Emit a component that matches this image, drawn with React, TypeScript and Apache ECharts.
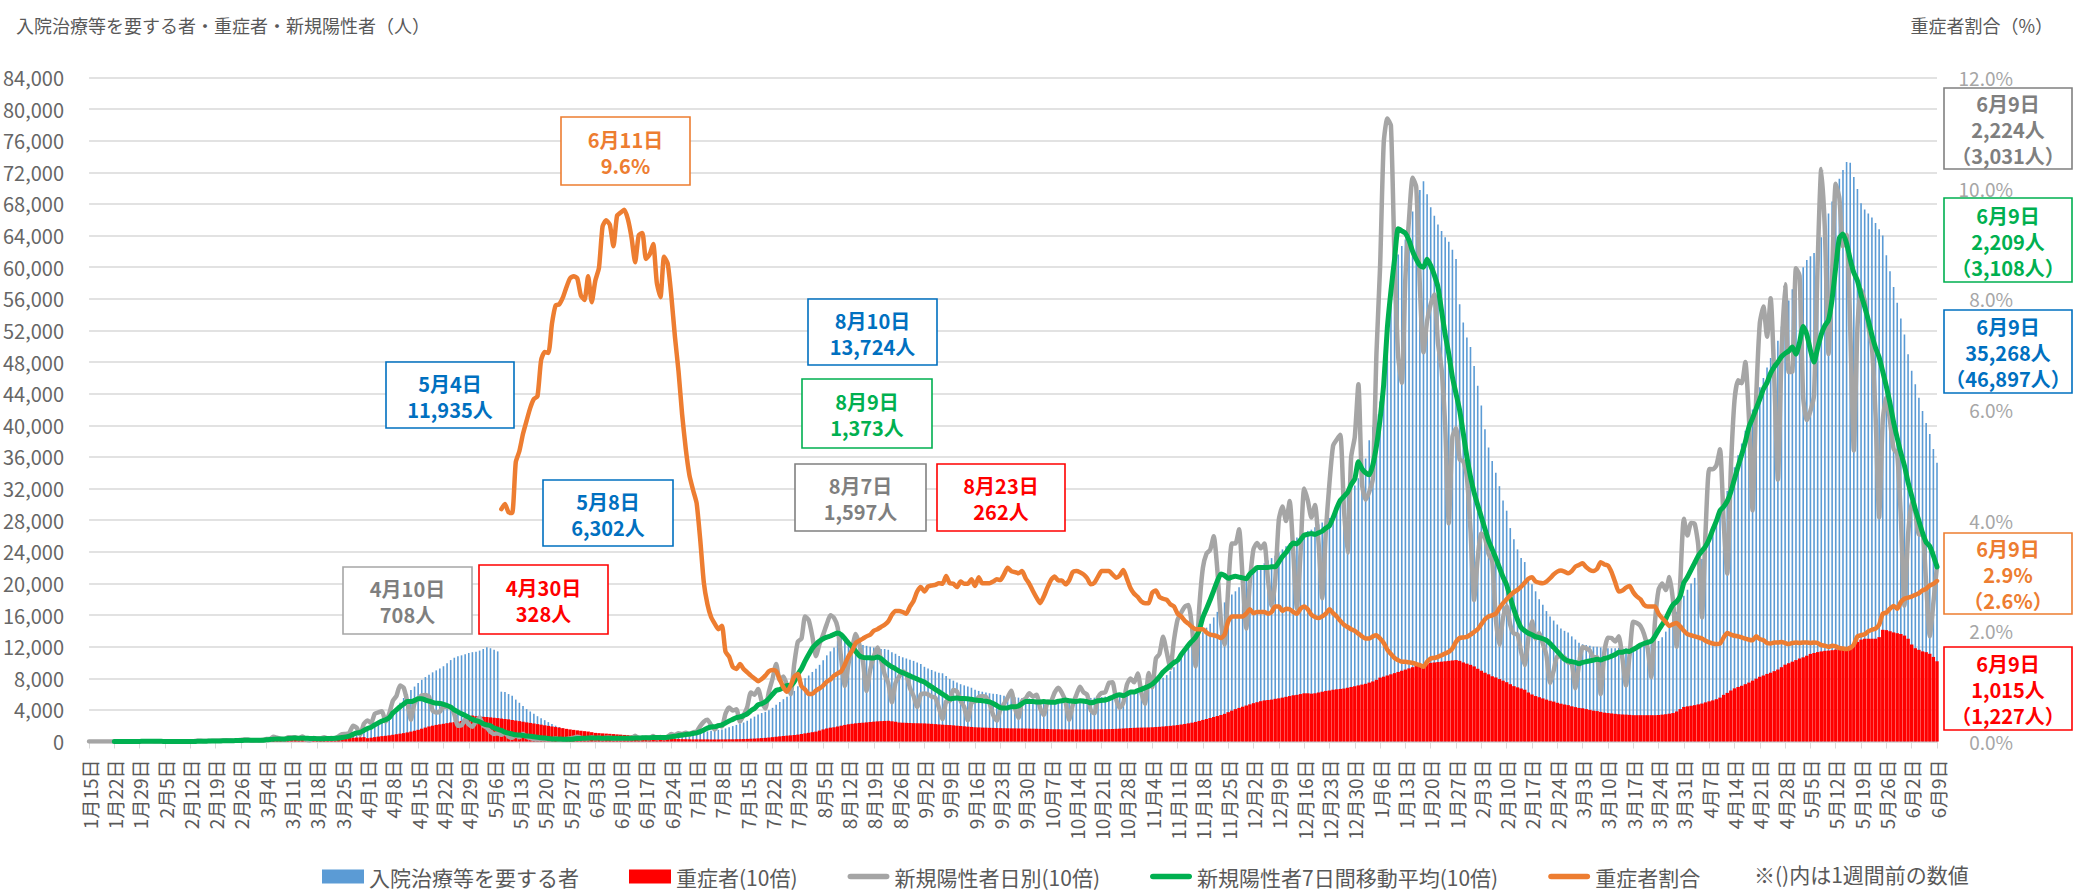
import React, { useEffect, useRef } from "react";
import * as echarts from "echarts";

const FONT = '"Noto Sans CJK JP", "Noto Sans", sans-serif';

// ---- categories: one per day, 2020-01-15 .. 2021-06-09 ----
const firstDay = Date.UTC(2020, 0, 15);
const dayCount = 512;

// ---- series values (persons / %) ----
// 新規陽性者 日別 (persons/day), from 2020-01-15
const newCases = [
  // 2020 Jan (15-31)
  1, 0, 0, 0, 0, 0, 0, 0, 0, 1, 1, 1, 0, 3, 1, 4, 3,
  // Feb
  3, 0, 0, 2, 0, 2, 0, 0, 1, 0, 1, 1, 3, 8, 8, 6, 6, 8, 8, 10, 13, 15, 12, 9, 16, 20, 24, 24, 12,
  // Mar
  15, 14, 19, 33, 33, 59, 47, 33, 26, 54, 52, 54, 41, 64, 25, 16, 44, 39, 39, 53, 40, 43, 38, 65, 93, 96, 112, 200, 174, 87, 225,
  // Apr
  266, 235, 351, 368, 383, 252, 352, 515, 576, 708, 680, 503, 275, 487, 542, 584, 587, 568, 390, 367, 378, 436, 438, 437, 346, 200, 204, 278, 216, 187,
  // May
  260, 304, 203, 175, 123, 96, 104, 84, 111, 60, 48, 78, 55, 99, 58, 42, 32, 27, 33, 28, 30, 25, 39, 21, 21, 31, 38, 48, 59, 46, 38,
  // Jun
  37, 51, 40, 46, 38, 46, 47, 36, 41, 37, 41, 41, 43, 72, 42, 45, 48, 42, 68, 40, 57, 41, 61, 94, 81, 105, 94, 111, 85, 117,
  // Jul
  125, 195, 250, 274, 208, 152, 207, 191, 353, 429, 392, 408, 252, 332, 437, 621, 592, 664, 510, 419, 631, 794, 981, 774, 823, 710, 600, 981, 1264, 1301, 1580,
  // Aug
  1536, 1331, 1080, 1237, 1354, 1485, 1597, 1565, 1445, 1040, 702, 985, 1176, 1359, 1227, 1011, 640, 906, 1076, 1190, 1032, 849, 740, 497, 740, 822, 887, 854, 676, 575, 437,
  // Sep
  594, 606, 597, 568, 555, 428, 285, 507, 514, 653, 633, 516, 435, 269, 493, 508, 561, 574, 565, 485, 336, 265, 403, 476, 556, 643, 431, 298, 514, 545,
  // Oct
  611, 567, 592, 420, 337, 498, 505, 618, 680, 617, 506, 275, 460, 586, 693, 622, 591, 395, 356, 561, 614, 623, 740, 748, 533, 426, 490, 720, 798, 748, 860,
  // Nov
  617, 474, 867, 685, 1048, 1108, 1326, 1130, 931, 1281, 1541, 1631, 1705, 1727, 1441, 950, 1697, 2197, 2376, 2425, 2596, 2168, 1518, 1226, 1937, 2505, 2504, 2684, 2055, 1429,
  // Dec
  2030, 2433, 2511, 2444, 2504, 2048, 1720, 2041, 2807, 2974, 2788, 3041, 2386, 1680, 2390, 3202, 3052, 2833, 2992, 2506, 1812, 2661, 3270, 3741, 3819, 3881, 2948, 2390, 3598, 3852, 4520,
  // 2021 Jan
  3257, 3059, 3158, 3325, 4915, 6004, 7570, 7882, 7790, 6094, 4876, 4538, 5870, 6605, 7133, 7014, 5759, 4925, 5320, 5532, 5654, 5045, 4715, 3989, 2760, 3852, 3964, 3568, 3547, 3342, 2675,
  // Feb
  1789, 2324, 2631, 2576, 2373, 2286, 1554, 1222, 1570, 1711, 1476, 1363, 1356, 1133, 966, 1308, 1524, 1301, 1373, 1239, 1089, 740, 897, 1076, 1076, 1063, 1001, 990,
  // Mar
  673, 976, 1195, 1178, 1149, 1065, 1065, 600, 1127, 1313, 1308, 1265, 1331, 1054, 709, 1097, 1515, 1499, 1462, 1356, 1179, 816, 1510, 1918, 1998, 1915, 2082, 1784, 1200, 2011, 2819,
  // Apr
  2605, 2765, 2754, 2470, 1569, 2654, 3447, 3445, 3493, 3697, 2779, 2123, 3451, 4312, 4570, 4532, 4802, 4091, 2924, 4343, 5291, 5503, 5119, 5606, 4603, 3314, 4884, 5783, 4673, 4678,
  // May
  5986, 5895, 4354, 4068, 4181, 4383, 6054, 7244, 6470, 4902, 5917, 7056, 6874, 6266, 6411, 5238, 3681, 5229, 5719, 5576, 5258, 4993, 4138, 2837, 4062, 4353, 4058, 3702, 3641, 2841, 1719,
  // Jun (1-9)
  2611, 3031, 2907, 2618, 2624, 2000, 1331, 1754, 2224,
];

// 新規陽性者 7日間移動平均 (persons/day), from 2020-01-22
const avg7Start = 7;
const avg7 = [
  0.4, 0.4, 0.6, 0.7, 0.9, 0.9, 1.3, 1.4, 1.9, 2.1,
  2.3, 2.1, 2.0, 1.9, 1.3, 1.3, 1.0, 0.7, 0.9, 0.6, 0.6, 0.6, 1.0, 2.1, 3.3, 4.1, 4.9, 5.9, 6.9, 7.1, 8.7, 9.7, 10.1, 10.6, 11.7, 13.1, 15.1, 15.4, 15.6,
  15, 15, 17, 21, 25, 29, 33, 33, 33, 37, 40, 43, 40, 42, 41, 39, 38, 36, 35, 36, 37, 39, 40, 43, 50, 58, 68, 90, 108, 115, 140,
  165, 180, 210, 235, 260, 275, 300, 360, 400, 440, 475, 505, 505, 520, 540, 540, 525, 510, 495, 485, 480, 470, 455, 435, 400, 375, 350, 330, 305, 280,
  265, 250, 225, 210, 200, 170, 155, 140, 118, 105, 95, 85, 82, 75, 70, 66, 59, 54, 47, 43, 37, 33, 33, 31, 30, 29, 30, 33, 38, 39, 41,
  43, 43, 43, 43, 41, 41, 42, 42, 41, 40, 40, 40, 40, 44, 45, 46, 47, 47, 51, 50, 52, 51, 54, 61, 66, 75, 83, 88, 94, 102,
  109, 125, 146, 169, 183, 188, 201, 211, 234, 260, 280, 302, 311, 328, 349, 389, 418, 463, 478, 502, 545, 596, 647, 658, 681, 710, 706, 756, 852, 921, 1016,
  1100, 1180, 1230, 1270, 1300, 1320, 1335, 1355, 1373, 1350, 1300, 1245, 1200, 1140, 1085, 1065, 1060, 1058, 1055, 1070, 1050, 1010, 975, 945, 920, 890, 870, 850, 830, 810, 790,
  770, 753, 720, 690, 660, 630, 600, 570, 540, 545, 550, 545, 545, 540, 535, 524, 520, 515, 510, 500, 480, 455, 430, 425, 425, 440, 440, 450, 480, 505,
  505, 505, 500, 500, 505, 500, 495, 495, 510, 515, 525, 515, 510, 505, 515, 510, 505, 490, 500, 515, 520, 525, 540, 560, 580, 590, 580, 600, 625, 625, 645,
  660, 680, 700, 726, 770, 820, 880, 920, 960, 1000, 1026, 1100, 1160, 1220, 1270, 1320, 1410, 1572, 1680, 1790, 1910, 2030, 2120, 2100, 2064, 2080, 2090, 2080, 2070, 2060,
  2120, 2160, 2200, 2200, 2200, 2200, 2210, 2210, 2270, 2340, 2390, 2460, 2510, 2500, 2550, 2610, 2620, 2630, 2620, 2640, 2660, 2700, 2730, 2830, 2950, 3050, 3100, 3150, 3250, 3320, 3540,
  3450, 3400, 3374, 3500, 3740, 4080, 4520, 5230, 5700, 6100, 6486, 6460, 6430, 6340, 6200, 6100, 6020, 6000, 6100, 6020, 5900, 5750, 5450, 5150, 4900, 4610, 4400, 4190, 3900, 3600, 3350,
  3150, 2990, 2840, 2690, 2540, 2430, 2320, 2200, 2080, 1980, 1820, 1670, 1540, 1440, 1400, 1370, 1350, 1326, 1315, 1300, 1280, 1240, 1190, 1140, 1090, 1040, 1020, 1010,
  1000, 985, 1000, 1010, 1020, 1030, 1040, 1030, 1050, 1060, 1080, 1100, 1130, 1130, 1145, 1140, 1165, 1190, 1220, 1240, 1255, 1270, 1330, 1409, 1480, 1550, 1650, 1730, 1770, 1840, 2009,
  2080, 2170, 2260, 2350, 2410, 2470, 2560, 2680, 2790, 2920, 2970, 3040, 3160, 3320, 3480, 3630, 3790, 3980, 4090, 4210, 4330, 4460, 4540, 4660, 4740, 4800, 4870, 4910, 4940, 4990,
  4900, 5050, 5250, 5150, 4950, 4800, 4980, 5150, 5260, 5330, 5600, 6000, 6370, 6420, 6300, 6100, 5930, 5830, 5650, 5500, 5330, 5140, 4980, 4860, 4680, 4490, 4280, 4040, 3840, 3650, 3490,
  3280, 3108, 2940, 2790, 2640, 2520, 2470, 2350, 2209,
];

// 入院治療等を要する者 (persons), from 2020-03-01
const hospStart = 46;
const hosp = [
  170, 180, 190, 210, 230, 260, 280, 300, 310, 330, 360, 380, 400, 420, 440, 450, 470, 490, 510, 540, 570, 600, 620, 660, 700, 780, 850, 950, 1050, 1120, 1300,
  1560, 1750, 2000, 2330, 2600, 2900, 3300, 3800, 4300, 4900, 5500, 6000, 6500, 6950, 7400, 7800, 8150, 8460, 8750, 9000, 9250, 9520, 9900, 10300, 10600, 10800, 10900, 11050, 11200, 11300,
  11350, 11500, 11700, 11935, 11800, 11600, 11400, 6302, 6250, 6000, 5800, 5300, 4900, 4500, 4100, 3800, 3500, 3200, 2950, 2700, 2450, 2200, 2000, 1850, 1700, 1550, 1400, 1300, 1200, 1100, 1030,
  980, 950, 920, 900, 880, 860, 840, 820, 800, 780, 770, 760, 750, 740, 730, 720, 720, 710, 710, 720, 730, 740, 760, 780, 800, 830, 870, 900, 940, 980,
  1030, 1100, 1200, 1280, 1350, 1420, 1470, 1530, 1650, 1800, 1950, 2100, 2250, 2400, 2620, 2900, 3150, 3400, 3600, 3750, 3950, 4260, 4650, 5000, 5350, 5650, 5900, 6400, 6990, 7500, 8000,
  8350, 8800, 9200, 9700, 10265, 10900, 11400, 11900, 12800, 13724, 13000, 12600, 12400, 12400, 12300, 12200, 12100, 12000, 11900, 11800, 11700, 11700, 11600, 11300, 11100, 10810, 10650, 10500, 10350, 10200, 10000,
  9800, 9450, 9250, 9050, 8850, 8700, 8630, 8300, 7920, 7700, 7450, 7250, 7100, 6950, 6800, 6550, 6400, 6300, 6200, 6100, 6050, 6000, 5900, 5800, 5700, 5650, 5600, 5550, 5500, 5460,
  5430, 5400, 5380, 5350, 5300, 5270, 5240, 5240, 5250, 5270, 5280, 5300, 5320, 5350, 5380, 5420, 5460, 5500, 5540, 5580, 5620, 5680, 5740, 5800, 5860, 5930, 6000, 6170, 6320, 6480, 6620,
  6720, 6850, 7000, 7260, 7550, 7850, 8080, 8400, 8900, 9400, 9990, 10600, 11360, 11900, 12450, 12900, 13300, 13810, 14400, 14900, 15700, 16400, 17090, 17600, 18180, 18600, 19000, 19500, 20090, 20600,
  21180, 21460, 21800, 22150, 22550, 22900, 23200, 23500, 23910, 24300, 24700, 25100, 25550, 25800, 26100, 26370, 26640, 26800, 27100, 27460, 27700, 28000, 28280, 28800, 29370, 30000, 30500, 31010, 31700, 32380, 33300,
  34290, 35800, 38110, 39800, 41390, 43020, 47390, 52850, 57220, 60500, 61600, 62680, 63500, 65410, 67050, 68500, 69780, 70870, 69240, 67600, 66500, 65410, 64590, 63800, 63230, 62200, 61040, 55300, 53000, 51100, 49900,
  47500, 45000, 42500, 39500, 37200, 35500, 34000, 32300, 30500, 29200, 27000, 25600, 24300, 23200, 22700, 20800, 19900, 19000, 18000, 17300, 16500, 15800, 15300, 14800, 14300, 14000, 13800, 13300,
  12900, 12500, 12300, 12200, 12100, 12000, 12000, 11900, 11850, 11800, 11800, 11800, 11850, 11850, 11800, 11850, 11900, 11950, 12000, 12100, 12200, 12300, 12500, 12720, 13200, 13900, 14800, 15600, 16400, 17300, 18450,
  19200, 20000, 20700, 21900, 23100, 24300, 25600, 26800, 28000, 29100, 30300, 31700, 33100, 34700, 36200, 37700, 39300, 40700, 42000, 43300, 44800, 46000, 47300, 48500, 49600, 50700, 52500, 54300, 55800, 57200,
  58300, 59300, 60000, 60900, 61400, 61800, 62400, 63800, 65400, 66800, 68300, 69800, 71200, 72300, 73300, 73200, 71400, 69900, 68100, 67300, 66800, 66300, 65600, 64800, 64000, 61500, 59500, 57500, 55500, 53500, 51500,
  49000, 46897, 45200, 43500, 41800, 40300, 38900, 37000, 35268,
];

// 重症者 (persons), from 2020-03-01
const severeStart = 46;
const severe = [
  20, 20, 21, 22, 23, 25, 27, 28, 29, 30, 31, 32, 33, 33, 34, 35, 36, 37, 38, 39, 40, 41, 42, 43, 44, 45, 47, 48, 50, 52, 55,
  42, 48, 55, 62, 68, 72, 78, 85, 92, 99, 106, 115, 125, 136, 148, 162, 176, 190, 200, 210, 217, 224, 232, 240, 245, 252, 260, 268, 275, 328,
  320, 315, 312, 310, 305, 300, 296, 290, 285, 280, 272, 265, 258, 250, 242, 235, 228, 220, 213, 205, 198, 190, 183, 176, 168, 160, 153, 147, 141, 136, 131,
  126, 118, 109, 106, 103, 100, 97, 94, 90, 87, 83, 79, 75, 71, 67, 61, 55, 52, 49, 46, 43, 40, 37, 33, 32, 31, 30, 29, 28, 27,
  27, 27, 27, 27, 26, 26, 26, 27, 27, 28, 28, 29, 30, 31, 33, 35, 37, 40, 43, 46, 50, 55, 60, 65, 70, 74, 78, 82, 87, 95, 103,
  110, 118, 125, 138, 153, 165, 175, 180, 190, 200, 210, 218, 224, 230, 235, 238, 242, 247, 251, 255, 258, 260, 262, 256, 250, 240, 238, 236, 234, 232, 231,
  230, 229, 226, 223, 220, 216, 213, 210, 208, 204, 200, 196, 192, 188, 184, 180, 178, 176, 175, 173, 172, 170, 169, 168, 167, 166, 166, 165, 165, 164,
  163, 162, 161, 160, 159, 158, 156, 155, 155, 154, 154, 153, 153, 153, 153, 153, 153, 154, 154, 155, 155, 156, 157, 158, 160, 162, 165, 168, 171, 173, 175,
  176, 177, 178, 180, 183, 186, 190, 194, 198, 203, 208, 215, 222, 230, 238, 248, 260, 273, 285, 297, 310, 322, 335, 350, 371, 390, 410, 425, 440, 455,
  470, 485, 497, 510, 520, 525, 530, 540, 546, 555, 565, 575, 585, 590, 600, 610, 610, 605, 610, 620, 630, 640, 645, 655, 660, 665, 670, 680, 690, 699, 710,
  720, 730, 745, 760, 780, 808, 820, 835, 850, 865, 880, 895, 910, 925, 940, 955, 965, 975, 985, 995, 1000, 1005, 1010, 1015, 1020, 1025, 1030, 1020, 1000, 985, 970,
  950, 920, 895, 870, 850, 825, 810, 790, 770, 750, 725, 700, 685, 670, 655, 620, 595, 575, 560, 545, 530, 515, 505, 490, 478, 468, 460, 445,
  435, 425, 420, 410, 400, 390, 385, 375, 365, 360, 355, 350, 345, 342, 340, 337, 333, 333, 333, 333, 333, 333, 333, 335, 340, 345, 352, 360, 380, 410, 437,
  445, 452, 460, 470, 480, 495, 508, 520, 535, 555, 590, 615, 645, 672, 690, 705, 725, 745, 770, 795, 819, 835, 855, 870, 890, 910, 940, 972, 990, 1010,
  1030, 1050, 1065, 1085, 1108, 1120, 1131, 1140, 1147, 1150, 1155, 1163, 1170, 1180, 1195, 1210, 1230, 1260, 1289, 1300, 1300, 1300, 1300, 1320, 1413, 1409, 1395, 1380, 1370, 1360, 1340,
  1300, 1227, 1180, 1160, 1140, 1130, 1110, 1070, 1015,
];

// 重症者割合 (%), from 2020-05-08
const ratioStart = 114;
const severeRatio = [
  4.2, 4.29, 4.14, 4.13, 5.05, 5.25, 5.56, 5.8, 6.03, 6.19, 6.24, 6.89, 7.04, 7.02, 7.55, 7.88, 7.9, 8.02, 8.21, 8.37, 8.41, 8.37, 8.06, 7.98,
  8.41, 7.94, 8.33, 8.56, 9.31, 9.42, 9.34, 8.95, 9.5, 9.56, 9.61, 9.44, 9.11, 8.66, 9.15, 9.19, 8.72, 8.8, 8.99, 8.29, 8.03, 8.76, 8.64, 8.06, 7.32, 6.69, 5.91, 5.29, 4.82, 4.55,
  4.31, 3.65, 2.87, 2.48, 2.25, 2.13, 2.03, 2.09, 1.62, 1.53, 1.35, 1.31, 1.4, 1.31, 1.25, 1.19, 1.14, 1.09, 1.13, 1.19, 1.27, 1.29, 1.27, 1.12, 0.98, 0.9, 1.01, 1.17, 1.22, 1.0, 0.94,
  0.86, 0.86, 0.92, 0.96, 1.01, 1.08, 1.12, 1.19, 1.23, 1.27, 1.39, 1.54, 1.64, 1.78, 1.82, 1.86, 1.9, 1.93, 2.0, 2.03, 2.07, 2.11, 2.17, 2.29, 2.36, 2.36, 2.34, 2.31, 2.44, 2.54, 2.71,
  2.79, 2.71, 2.8, 2.82, 2.83, 2.86, 2.85, 2.99, 2.86, 2.85, 2.79, 2.89, 2.85, 2.85, 2.93, 2.81, 2.97, 2.86, 2.86, 2.86, 2.89, 2.93, 2.92, 3.02, 3.14, 3.08, 3.06, 3.04, 3.08, 2.95,
  2.85, 2.72, 2.6, 2.5, 2.62, 2.78, 2.92, 2.98, 2.91, 2.91, 2.84, 2.91, 3.06, 3.08, 3.06, 3.02, 2.95, 2.84, 2.87, 2.98, 3.08, 3.08, 3.08, 3.02, 2.96, 3.0, 3.1, 2.94, 2.77, 2.67, 2.61,
  2.53, 2.5, 2.5, 2.69, 2.73, 2.61, 2.58, 2.56, 2.48, 2.44, 2.31, 2.26, 2.18, 2.13, 2.07, 2.03, 2.03, 2.03, 1.97, 1.93, 1.92, 1.9, 1.87, 1.93, 2.17, 2.26, 2.26, 2.26, 2.26, 2.31,
  2.39, 2.32, 2.34, 2.34, 2.34, 2.31, 2.34, 2.44, 2.44, 2.36, 2.4, 2.39, 2.34, 2.31, 2.4, 2.44, 2.39, 2.29, 2.25, 2.23, 2.26, 2.31, 2.39, 2.32, 2.26, 2.18, 2.11, 2.07, 2.03, 2.0, 1.95,
  1.9, 1.86, 1.86, 1.9, 1.92, 1.86, 1.78, 1.66, 1.58, 1.51, 1.47, 1.44, 1.44, 1.43, 1.42, 1.4, 1.38, 1.35, 1.44, 1.5, 1.51, 1.53, 1.56, 1.59, 1.62, 1.68, 1.8, 1.87, 1.88, 1.89, 1.93,
  1.98, 2.03, 2.12, 2.21, 2.26, 2.28, 2.31, 2.41, 2.5, 2.57, 2.64, 2.7, 2.74, 2.8, 2.87, 2.94, 2.97, 2.89, 2.87, 2.86, 2.89, 2.95, 3.02, 3.07, 3.09, 3.07, 3.04, 3.08,
  3.16, 3.19, 3.22, 3.15, 3.1, 3.08, 3.12, 3.24, 3.2, 3.18, 3.06, 2.88, 2.71, 2.73, 2.78, 2.81, 2.7, 2.62, 2.57, 2.47, 2.44, 2.44, 2.44, 2.31, 2.23, 2.16, 2.09, 2.12, 2.14, 2.08, 2.0,
  1.94, 1.92, 1.9, 1.88, 1.86, 1.82, 1.79, 1.77, 1.76, 1.77, 1.88, 1.96, 1.93, 1.91, 1.9, 1.88, 1.86, 1.84, 1.83, 1.9, 1.85, 1.83, 1.78, 1.77, 1.79, 1.79, 1.8, 1.78, 1.76, 1.78,
  1.79, 1.78, 1.79, 1.79, 1.78, 1.79, 1.78, 1.74, 1.73, 1.71, 1.73, 1.72, 1.69, 1.68, 1.67, 1.69, 1.75, 1.9, 1.92, 1.94, 1.99, 2.02, 2.04, 2.11, 2.31, 2.33, 2.4, 2.45, 2.4, 2.52, 2.58,
  2.6, 2.62, 2.65, 2.68, 2.73, 2.76, 2.82, 2.85, 2.9,
];

// ---- texts ----
const leftTitle = "入院治療等を要する者・重症者・新規陽性者（人）";
const rightTitle = "重症者割合（%）";
const seriesNames = [
  "入院治療等を要する者",
  "重症者(10倍)",
  "新規陽性者日別(10倍)",
  "新規陽性者7日間移動平均(10倍)",
  "重症者割合",
];
const footNote = "※()内は1週間前の数値";
const calloutTexts = {
  ratioPeak: ["6月11日", "9.6%"],
  hospPeak1: ["5月4日", "11,935人"],
  hospMay8: ["5月8日", "6,302人"],
  severePeak1: ["4月30日", "328人"],
  newPeak1: ["4月10日", "708人"],
  hospPeak2: ["8月10日", "13,724人"],
  avgPeak2: ["8月9日", "1,373人"],
  newPeak2: ["8月7日", "1,597人"],
  severePeak2: ["8月23日", "262人"],
  newLatest: ["6月9日", "2,224人", "（3,031人）"],
  avgLatest: ["6月9日", "2,209人", "（3,108人）"],
  hospLatest: ["6月9日", "35,268人", "（46,897人）"],
  ratioLatest: ["6月9日", "2.9%", "（2.6%）"],
  severeLatest: ["6月9日", "1,015人", "（1,227人）"],
};

function makeDates(): string[] {
  const out: string[] = [];
  for (let i = 0; i < dayCount; i++) {
    const d = new Date(firstDay + i * 86400000);
    out.push(`${d.getUTCMonth() + 1}月${d.getUTCDate()}日`);
  }
  return out;
}

function place(start: number, arr: number[], k = 1): (number | null)[] {
  const out: (number | null)[] = new Array(dayCount).fill(null);
  arr.forEach((v, i) => {
    out[start + i] = Math.round(v * k * 100) / 100;
  });
  return out;
}

const C = {
  blue: "#5B9BD5",
  red: "#FF0000",
  gray: "#A5A5A5",
  green: "#00B050",
  orange: "#ED7D31",
  boxBlue: "#0070C0",
  text: "#595959",
};

// thick rounded line used as legend icon for line series (bbox kept 42x14)
const LINE_ICON =
  "path://M0,0L1,0L0,0Z M0,14L1,14L0,14Z M3,4.3L39,4.3C41,4.3 42,5.5 42,7C42,8.5 41,9.7 39,9.7L3,9.7C1,9.7 0,8.5 0,7C0,5.5 1,4.3 3,4.3Z";

function buildOption() {
  const dates = makeDates();

  const boxes: { key: keyof typeof calloutTexts; x: number; y: number; w: number; h: number; stroke: string; fill: string }[] = [
    { key: "ratioPeak", x: 561, y: 117, w: 129, h: 68, stroke: C.orange, fill: C.orange },
    { key: "hospPeak1", x: 386, y: 362, w: 128, h: 66, stroke: C.boxBlue, fill: C.boxBlue },
    { key: "hospMay8", x: 543, y: 480, w: 130, h: 66, stroke: C.boxBlue, fill: C.boxBlue },
    { key: "severePeak1", x: 479, y: 565, w: 129, h: 69, stroke: C.red, fill: C.red },
    { key: "newPeak1", x: 343, y: 567, w: 129, h: 67, stroke: "#A6A6A6", fill: "#7F7F7F" },
    { key: "hospPeak2", x: 808, y: 299, w: 129, h: 66, stroke: C.boxBlue, fill: C.boxBlue },
    { key: "avgPeak2", x: 802, y: 379, w: 130, h: 69, stroke: C.green, fill: C.green },
    { key: "newPeak2", x: 795, y: 464, w: 131, h: 67, stroke: "#808080", fill: "#7F7F7F" },
    { key: "severePeak2", x: 937, y: 464, w: 128, h: 67, stroke: C.red, fill: C.red },
    { key: "newLatest", x: 1944, y: 88, w: 128, h: 81, stroke: "#808080", fill: "#7F7F7F" },
    { key: "avgLatest", x: 1944, y: 198, w: 128, h: 84, stroke: C.green, fill: C.green },
    { key: "hospLatest", x: 1944, y: 310, w: 128, h: 83, stroke: C.boxBlue, fill: C.boxBlue },
    { key: "ratioLatest", x: 1944, y: 533, w: 128, h: 81, stroke: C.orange, fill: C.orange },
    { key: "severeLatest", x: 1944, y: 647, w: 128, h: 83, stroke: C.red, fill: C.red },
  ];

  const graphics: any[] = [
    {
      type: "text",
      x: 16,
      y: 25,
      style: { text: leftTitle, fill: C.text, font: `18px ${FONT}`, verticalAlign: "middle" },
    },
    {
      type: "text",
      x: 2053,
      y: 25,
      style: { text: rightTitle, fill: C.text, font: `18px ${FONT}`, align: "right", verticalAlign: "middle" },
    },
    {
      type: "text",
      x: 1754,
      y: 874,
      style: { text: footNote, fill: C.text, font: `21px ${FONT}`, verticalAlign: "middle" },
    },
  ];
  boxes.forEach((b) => {
    graphics.push({
      type: "rect",
      z: 100,
      shape: { x: b.x, y: b.y, width: b.w, height: b.h },
      style: { fill: "#ffffff", stroke: b.stroke, lineWidth: 1.6 },
    });
    graphics.push({
      type: "text",
      z: 101,
      x: b.x + b.w / 2,
      y: b.y + b.h / 2 + 1,
      style: {
        text: calloutTexts[b.key].join("\n"),
        fill: b.fill,
        font: `bold 20px ${FONT}`,
        lineHeight: 26,
        align: "center",
        verticalAlign: "middle",
      },
    });
  });

  return {
    animation: false,
    backgroundColor: "#ffffff",
    textStyle: { fontFamily: FONT },
    grid: { left: 87, right: 136, top: 77.5, bottom: 152.5, containLabel: false },
    legend: {
      left: 317,
      top: 861,
      itemWidth: 42,
      itemHeight: 14,
      itemGap: 50,
      selectedMode: false,
      textStyle: { fontSize: 21, color: C.text, fontFamily: FONT },
      data: [
        { name: seriesNames[0], icon: "rect" },
        { name: seriesNames[1], icon: "rect" },
        { name: seriesNames[2], icon: LINE_ICON, itemStyle: { borderWidth: 0 } },
        { name: seriesNames[3], icon: LINE_ICON, itemStyle: { borderWidth: 0 } },
        { name: seriesNames[4], icon: LINE_ICON, itemStyle: { borderWidth: 0 } },
      ],
    },
    xAxis: [
      {
        type: "category",
        data: dates,
        boundaryGap: false,
        axisLine: { lineStyle: { color: "#D9D9D9", width: 1.5 } },
        axisTick: { show: true, interval: 6, length: 7, lineStyle: { color: "#D9D9D9" } },
        axisLabel: { interval: 6, rotate: 90, fontSize: 19, color: C.text, margin: 18, fontFamily: FONT },
        splitLine: { show: false },
      },
      {
        type: "category",
        data: dates,
        boundaryGap: false,
        show: false,
      },
    ],
    yAxis: [
      {
        type: "value",
        min: 0,
        max: 84000,
        interval: 4000,
        position: "left",
        axisLine: { show: false },
        axisTick: { show: false },
        splitLine: { lineStyle: { color: "#D9D9D9", width: 1.5 } },
        axisLabel: {
          formatter: (v: number) => v.toLocaleString("en-US"),
          fontSize: 20,
          color: "#666666",
          margin: 25,
          fontFamily: FONT,
        },
      },
      {
        type: "value",
        min: 0,
        max: 12,
        interval: 2,
        position: "right",
        axisLine: { show: false },
        axisTick: { show: false },
        splitLine: { show: false },
        axisLabel: {
          formatter: (v: number) => v.toFixed(1) + "%",
          fontSize: 19,
          color: "#A6A6A6",
          align: "right",
          margin: 76,
          fontFamily: FONT,
        },
      },
    ],
    series: [
      {
        name: seriesNames[0],
        type: "bar",
        xAxisIndex: 0,
        yAxisIndex: 0,
        barWidth: 1.6,
        itemStyle: { color: C.blue },
        data: place(hospStart, hosp),
      },
      {
        name: seriesNames[1],
        type: "bar",
        xAxisIndex: 1,
        yAxisIndex: 0,
        barWidth: "94%",
        itemStyle: { color: C.red },
        data: place(severeStart, severe, 10),
      },
      {
        name: seriesNames[2],
        type: "line",
        xAxisIndex: 0,
        yAxisIndex: 0,
        symbol: "none",
        smooth: 0.2,
        lineStyle: { color: C.gray, width: 4.5, cap: "round", join: "round" },
        itemStyle: { color: C.gray },
        data: place(0, newCases, 10),
      },
      {
        name: seriesNames[3],
        type: "line",
        xAxisIndex: 0,
        yAxisIndex: 0,
        symbol: "none",
        smooth: 0.2,
        lineStyle: { color: C.green, width: 5, cap: "round", join: "round" },
        itemStyle: { color: C.green },
        data: place(avg7Start, avg7, 10),
      },
      {
        name: seriesNames[4],
        type: "line",
        xAxisIndex: 0,
        yAxisIndex: 1,
        symbol: "none",
        smooth: 0.2,
        lineStyle: { color: C.orange, width: 4.5, cap: "round", join: "round" },
        itemStyle: { color: C.orange },
        data: place(ratioStart, severeRatio),
      },
    ],
    graphic: graphics,
  };
}

export default function App() {
  const ref = useRef<HTMLDivElement>(null);
  useEffect(() => {
    document.body.style.margin = "0";
    if (!ref.current) return;
    const chart = echarts.init(ref.current, null, { renderer: "svg" });
    chart.setOption(buildOption() as any);
    return () => chart.dispose();
  }, []);
  return (
    <div
      ref={ref}
      style={{ position: "absolute", left: 0, top: 0, width: 2073, height: 894, background: "#fff" }}
    />
  );
}
